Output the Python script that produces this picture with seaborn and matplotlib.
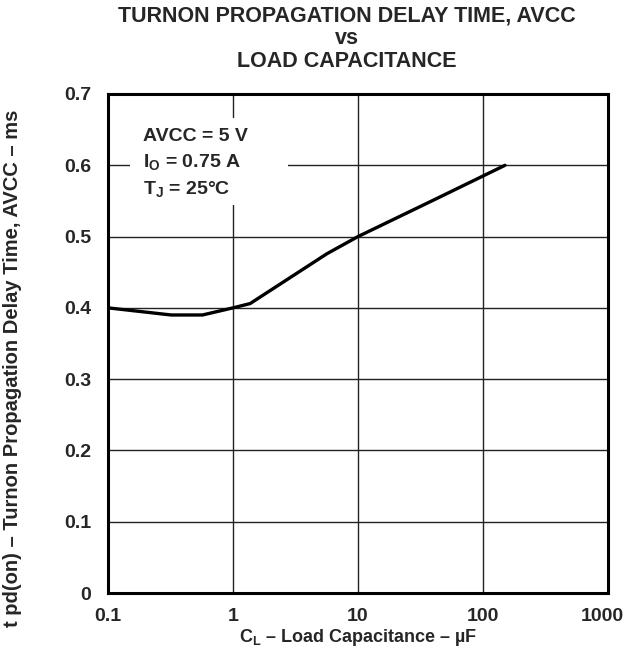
import matplotlib
matplotlib.use('Agg')
import matplotlib.pyplot as plt
import matplotlib.transforms as mtransforms
from matplotlib.patches import Rectangle
import seaborn as sns
import numpy as np

sns.set_theme(style='white')
plt.rcParams['font.family'] = ['Liberation Sans', 'DejaVu Sans']
plt.rcParams['font.weight'] = 'bold'
plt.rcParams['mathtext.fontset'] = 'custom'
plt.rcParams['mathtext.rm'] = 'Liberation Sans:bold'
plt.rcParams['mathtext.it'] = 'Liberation Sans:bold'
plt.rcParams['mathtext.bf'] = 'Liberation Sans:bold'

# curve
load_cap = [0.1, 0.32, 0.57, 1.0, 1.37, 5.65, 10, 40, 150]
delay_ms = [0.400, 0.390, 0.390, 0.400, 0.406, 0.476, 0.500, 0.551, 0.600]

x_ticks = [0.1, 1, 10, 100, 1000]
x_tick_labels = ['0.1', '1', '10', '100', '1000']
y_ticks = [0, 0.1, 0.2, 0.3, 0.4, 0.5, 0.6, 0.7]
y_tick_labels = ['0', '0.1', '0.2', '0.3', '0.4', '0.5', '0.6', '0.7']

fig = plt.figure(figsize=(6.28, 6.53), dpi=100)
ax = fig.add_axes([108 / 628, 1 - 593 / 653, 500 / 628, 499 / 653])

sns.lineplot(x=load_cap, y=delay_ms, ax=ax, color='black', linewidth=2.4, zorder=3)

ax.set_xscale('log')
ax.set_xlim(0.1, 1000)
ax.set_ylim(0, 0.7)
ax.set_xticks(x_ticks)
ax.set_xticklabels(x_tick_labels)
ax.set_yticks(y_ticks)
ax.set_yticklabels(y_tick_labels)
ax.minorticks_off()
ax.grid(True, which='major', color='#222222', linewidth=1.0)
ax.tick_params(axis='both', length=0, labelsize=14)
ax.tick_params(axis='x', pad=11)
ax.tick_params(axis='y', pad=12)
for lbl in ax.get_xticklabels() + ax.get_yticklabels():
    lbl.set_fontweight('bold')
# keep the last x label inside the figure like the reference
last = ax.get_xticklabels()[-1]
last.set_transform(last.get_transform() + mtransforms.ScaledTranslation(-6 / 100, 0, fig.dpi_scale_trans))
for sp in ax.spines.values():
    sp.set_color('black')
    sp.set_linewidth(2.2)
    sp.set_zorder(4)

ax.set_xlabel(r'C$_\mathrm{L}$ – Load Capacitance – µF', fontsize=13, fontweight='bold', labelpad=1)
ax.set_ylabel('t pd(on) – Turnon Propagation Delay Time, AVCC – ms', fontsize=14.5, fontweight='bold')
ax.yaxis.set_label_coords(-0.172, 0.45)

# white patch behind the conditions box
ax.add_patch(Rectangle((0.044, 0.778), 0.316, 0.174, transform=ax.transAxes,
                       facecolor='white', edgecolor='none', zorder=2.5))
ax.text(0.1 * 10 ** (35 / 125), 0.652,
        'AVCC = 5 V\nI$_\\mathrm{O}$ = 0.75 A\nT$_\\mathrm{J}$ = 25°C',
        fontsize=14, fontweight='bold', va='top', ha='left', linespacing=1.45, zorder=5)

fig.text(347 / 628, 1 - 39 / 653,
         'TURNON PROPAGATION DELAY TIME, AVCC\nvs\nLOAD CAPACITANCE',
         ha='center', va='center', fontsize=15.5, fontweight='bold', linespacing=1.1)

plt.savefig('out.png', dpi=100)
plt.close()
